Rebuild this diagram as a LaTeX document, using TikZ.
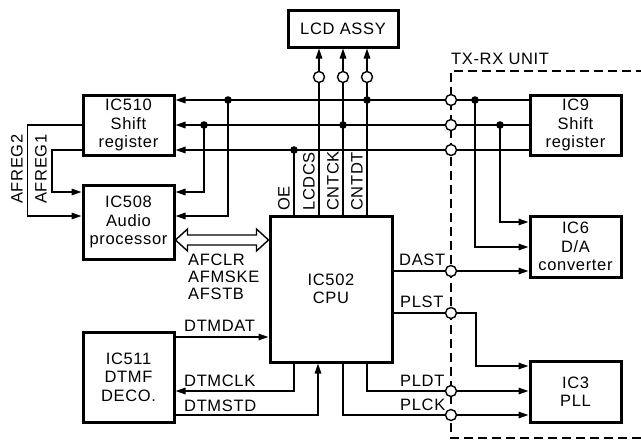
\documentclass[tikz,border=0pt]{standalone}
\usepackage{fontspec}
\setmainfont{Liberation Sans}[LetterSpace=4]
\usetikzlibrary{arrows.meta,calc}
\begin{document}
\begin{tikzpicture}[x=1pt,y=-1pt,
  box/.style={draw,line width=3pt,minimum width=91pt,align=center,inner sep=0pt,font=\fontsize{16.5}{18.5}\selectfont},
  ln/.style={line width=1.4pt},
  arr/.style={ln,-{Triangle[length=10pt,width=6.5pt]}},
  lab/.style={font=\fontsize{16.5}{17}\selectfont,inner sep=0pt},
  vlab/.style={lab,rotate=90,anchor=south west},
  dot/.style={fill=black},
  ring/.style={ln,fill=white}]
\useasboundingbox (0,0) rectangle (641,440);
% boxes
\node[box,minimum height=37pt,minimum width=110pt] (lcd) at (343,28.5) {LCD ASSY};
\node[box,minimum height=60pt] (ic510) at (128.5,125) {IC510\\Shift\\register};
\node[box,minimum height=74pt] (ic508) at (128.5,222) {IC508\\Audio\\processor};
\node[box,minimum height=90pt] (ic511) at (128.5,377) {IC511\\DTMF\\DECO.};
\node[box,minimum width=122pt,minimum height=146pt] (cpu) at (331,289) {IC502\\CPU};
\node[box,minimum height=60pt] (ic9) at (575.5,125) {IC9\\Shift\\register};
\node[box,minimum height=61pt] (ic6) at (575.5,246.5) {IC6\\D/A\\converter};
\node[box,minimum height=61pt] (ic3) at (575.5,391.5) {IC3\\PLL};
% coordinates
\coordinate (jA) at (228,100);
\coordinate (jB) at (204,125);
\coordinate (jC) at (294,150);
\coordinate (jD) at (343,125);
\coordinate (jE) at (367,100);
\coordinate (jF) at (475,100);
\coordinate (jG) at (500,125);
\coordinate (xL) at (319,0);
\coordinate (yc) at (0,77);
\coordinate (dx) at (451,0);
\coordinate (p508a) at (0,192);
\coordinate (p508b) at (0,216);
\coordinate (p6a) at (0,222);
\coordinate (p6b) at (0,247);
\coordinate (yDAST) at (0,271);
\coordinate (kPL) at (476,313);
\coordinate (yP2) at (0,366);
\coordinate (xPLDT) at (367,391);
\coordinate (xPLCK) at (343,415);
\coordinate (yDD) at (0,337);
\coordinate (kDC) at (294,391);
\coordinate (kDS) at (318,415);
\coordinate (yDA) at (0,240);
% dashed unit boundary
\draw[line width=2.2pt,dash pattern=on 9pt off 5pt] (645,71) -- (451,71) -- (451,438) -- (645,438);
% bus lines
\draw[arr,{Triangle[length=10pt,width=6.5pt]}-] (ic510.east |- jA) -- (ic9.west |- jA);
\draw[arr,{Triangle[length=10pt,width=6.5pt]}-] (ic510.east |- jB) -- (ic9.west |- jB);
\draw[arr,{Triangle[length=10pt,width=6.5pt]}-] (ic510.east |- jC) -- (ic9.west |- jC);
% CPU to LCD / bus
\draw[ln] (cpu.north -| jC) -- (jC);
\draw[arr] (cpu.north -| xL) -- (lcd.south -| xL);
\draw[arr] (cpu.north -| jD) -- (lcd.south -| jD);
\draw[arr] (cpu.north -| jE) -- (lcd.south -| jE);
% to IC508
\draw[arr] (jB) |- (ic508.east |- p508a);
\draw[arr] (jA) |- (ic508.east |- p508b);
\draw[arr] (ic510.west |- jB) -- ++(-54,0) |- (ic508.west |- p508b);
\draw[arr] (ic510.west |- jC) -- ++(-29.5,0) |- (ic508.west |- p508a);
% to IC6
\draw[arr] (jG) |- (ic6.west |- p6a);
\draw[arr] (jF) |- (ic6.west |- p6b);
\draw[arr] (cpu.east |- yDAST) -- (ic6.west |- yDAST);
% to IC3
\draw[arr] (cpu.east |- kPL) -- (kPL) |- (ic3.west |- yP2);
\draw[arr] (cpu.south -| xPLDT) |- (ic3.west |- xPLDT);
\draw[arr] (cpu.south -| xPLCK) |- (ic3.west |- xPLCK);
% IC511
\draw[arr] (ic511.east |- yDD) -- (cpu.west |- yDD);
\draw[arr] (cpu.south -| kDC) |- (ic511.east |- kDC);
\draw[arr] (ic511.east |- kDS) -| (cpu.south -| kDS);
% double arrow
\path (ic508.east |- yDA) coordinate (dl) (cpu.west |- yDA) coordinate (dr);
\draw[ln,fill=white] (dl) -- ($(dl)+(12,-11)$) -- ($(dl)+(12,-5)$) -- ($(dr)+(-12,-5)$) -- ($(dr)+(-12,-11)$) -- (dr) -- ($(dr)+(-12,11)$) -- ($(dr)+(-12,5)$) -- ($(dl)+(12,5)$) -- ($(dl)+(12,11)$) -- cycle;
% dots
\foreach \p in {jA,jB,jC,jD,jE,jF,jG} \fill[dot] (\p) circle (3.8);
% open circles
\draw[ring] (xL |- yc) circle (5.5);
\draw[ring] (jD |- yc) circle (5.5);
\draw[ring] (jE |- yc) circle (5.5);
\foreach \p in {jA,jB,jC,yDAST,kPL,xPLDT,xPLCK} \draw[ring] (dx |- \p) circle (5.5);
% labels
\node[lab,anchor=base west] at (451,64) {TX-RX UNIT};
\node[vlab] at (290,211) {OE};
\node[vlab] at (315,211) {LCDCS};
\node[vlab] at (339,211) {CNTCK};
\node[vlab] at (363,211) {CNTDT};
\node[vlab] at (23,204) {AFREG2};
\node[vlab] at (47,204) {AFREG1};
\node[lab,anchor=base west] at (188,265.5) {AFCLR};
\node[lab,anchor=base west] at (188,282.5) {AFMSKE};
\node[lab,anchor=base west] at (188,299.5) {AFSTB};
\node[lab,anchor=base west] at (399,265) {DAST};
\node[lab,anchor=base west] at (400,307) {PLST};
\node[lab,anchor=base west] at (400,386) {PLDT};
\node[lab,anchor=base west] at (400,410) {PLCK};
\node[lab,anchor=base west] at (184,331) {DTMDAT};
\node[lab,anchor=base west] at (184,386) {DTMCLK};
\node[lab,anchor=base west] at (184,411) {DTMSTD};
\end{tikzpicture}
\end{document}
